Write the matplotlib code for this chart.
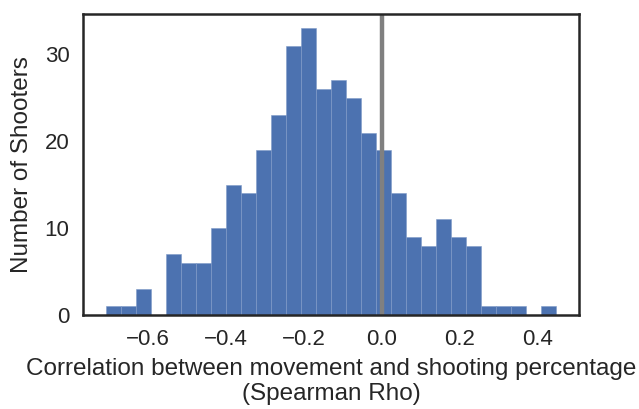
import matplotlib
matplotlib.use("Agg")
import matplotlib.pyplot as plt
import numpy as np

# histogram counts (30 equal bins)
counts = [1, 1, 3, 0, 7, 6, 6, 10, 15, 14, 19, 23, 31, 33, 26,
          27, 25, 21, 19, 14, 9, 8, 11, 9, 8, 1, 1, 1, 0, 1]
rho_min = -0.7067
rho_max = 0.4472
x_ticks = [-0.6, -0.4, -0.2, 0.0, 0.2, 0.4]
y_ticks = [0, 10, 20, 30]

plt.rcParams['font.family'] = ['Liberation Sans', 'DejaVu Sans']
plt.rcParams['text.color'] = '#262626'
plt.rcParams['axes.labelcolor'] = '#262626'
plt.rcParams['xtick.color'] = '#262626'
plt.rcParams['ytick.color'] = '#262626'

edges = np.linspace(rho_min, rho_max, len(counts) + 1)
centers = (edges[:-1] + edges[1:]) / 2

fig = plt.figure(figsize=(6.39, 4.09), dpi=100)
ax = fig.add_axes([0.1304, 0.2298, 0.906 - 0.1304, 0.9658 - 0.2298])
ax.hist(centers, bins=edges, weights=counts, color='#4C72B0',
        edgecolor='#7F9AC8', linewidth=0.4)
ax.axvline(0, color='gray', linewidth=3.2)

for s in ax.spines.values():
    s.set_linewidth(1.8)
    s.set_color('#262626')

ax.set_xticks(x_ticks)
ax.set_xticklabels(['\u22120.6', '\u22120.4', '\u22120.2', '0.0', '0.2', '0.4'])
ax.set_yticks(y_ticks)
ax.tick_params(length=0, labelsize=16, pad=10)
ax.set_xlim(-0.7644, 0.5049)
ax.set_ylim(0, 34.65)

ax.set_xlabel('Correlation between movement and shooting percentage\n(Spearman Rho)',
              fontsize=17.5, labelpad=6, linespacing=1.15)
ax.set_ylabel('Number of Shooters', fontsize=17.5, labelpad=8)

fig.savefig('out.png', dpi=100)
